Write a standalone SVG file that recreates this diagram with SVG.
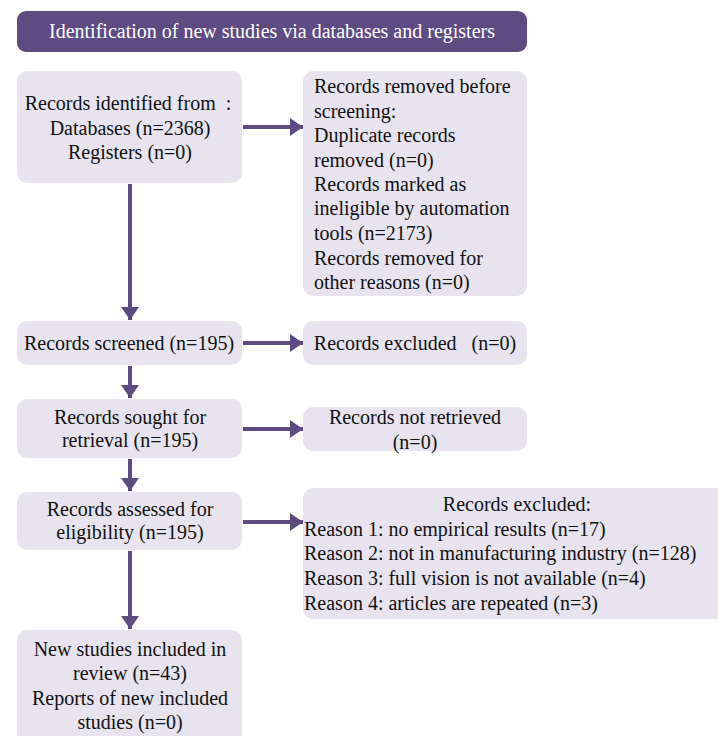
<svg xmlns="http://www.w3.org/2000/svg" width="718" height="736" viewBox="0 0 718 736">
<defs>
<marker id="ah" markerUnits="userSpaceOnUse" markerWidth="14" markerHeight="20" refX="13" refY="9" orient="auto">
<path d="M0,0 L13,9 L0,18 Z" fill="#5e4b82"/>
</marker>
<style>
.box{fill:#e7e4ef;}
.hdr{fill:#5e4b82;}
text{font-size:20px;fill:#111;}
.c{text-anchor:middle;}
.w{fill:#ffffff;}
.cn line{stroke:#5e4b82;stroke-width:4;marker-end:url(#ah);}
</style>
</defs>
<rect width="718" height="736" fill="#ffffff"/>
<g font-family="'Liberation Serif', Tinos, 'Times New Roman', 'DejaVu Serif', serif">
<g id="header">
<rect class="hdr" x="17" y="11" width="510" height="41" rx="9"/>
<text class="c w" x="272" y="38">Identification of new studies via databases and registers</text>
</g>
<g id="identified">
<rect class="box" x="17" y="71" width="225" height="112" rx="10"/>
<text class="c" x="128" y="110" xml:space="preserve">Records identified from  :</text>
<text class="c" x="130" y="135">Databases (n=2368)</text>
<text class="c" x="130" y="159">Registers (n=0)</text>
</g>
<g id="removed">
<rect class="box" x="303" y="71" width="224" height="225" rx="10"/>
<text x="314" y="93">Records removed before</text>
<text x="314" y="118">screening:</text>
<text x="314" y="142">Duplicate records</text>
<text x="314" y="167">removed (n=0)</text>
<text x="314" y="191">Records marked as</text>
<text x="314" y="215">ineligible by automation</text>
<text x="314" y="240">tools (n=2173)</text>
<text x="314" y="265">Records removed for</text>
<text x="314" y="289">other reasons (n=0)</text>
</g>
<g id="screened">
<rect class="box" x="17" y="321" width="225" height="44" rx="10"/>
<text class="c" x="129" y="350">Records screened (n=195)</text>
</g>
<g id="excluded1">
<rect class="box" x="303" y="321" width="224" height="44" rx="10"/>
<text class="c" x="415" y="350" xml:space="preserve">Records excluded   (n=0)</text>
</g>
<g id="sought">
<rect class="box" x="17" y="399" width="225" height="59" rx="10"/>
<text class="c" x="130" y="424">Records sought for</text>
<text class="c" x="130" y="447">retrieval (n=195)</text>
</g>
<g id="notretrieved">
<rect class="box" x="303" y="407" width="224" height="44" rx="10"/>
<text class="c" x="415" y="424">Records not retrieved</text>
<text class="c" x="415" y="449">(n=0)</text>
</g>
<g id="assessed">
<rect class="box" x="17" y="492" width="225" height="58" rx="10"/>
<text class="c" x="130" y="516">Records assessed for</text>
<text class="c" x="130" y="539">eligibility (n=195)</text>
</g>
<g id="excluded2">
<rect class="box" x="303" y="488" width="425" height="131" rx="10"/>
<text class="c" x="517" y="511">Records excluded:</text>
<text x="304" y="536">Reason 1: no empirical results (n=17)</text>
<text x="304" y="560">Reason 2: not in manufacturing industry (n=128)</text>
<text x="304" y="585">Reason 3: full vision is not available (n=4)</text>
<text x="304" y="610">Reason 4: articles are repeated (n=3)</text>
</g>
<g id="included">
<rect class="box" x="17" y="630" width="225" height="116" rx="10"/>
<text class="c" x="130" y="656">New studies included in</text>
<text class="c" x="130" y="680">review (n=43)</text>
<text class="c" x="130" y="705">Reports of new included</text>
<text class="c" x="130" y="729">studies (n=0)</text>
</g>
</g>
<g id="connectors" class="cn">
<line x1="243" y1="127" x2="303" y2="127"/>
<line x1="130" y1="184" x2="130" y2="320"/>
<line x1="243" y1="343" x2="303" y2="343"/>
<line x1="130" y1="366" x2="130" y2="398"/>
<line x1="243" y1="429" x2="303" y2="429"/>
<line x1="130" y1="459" x2="130" y2="491"/>
<line x1="243" y1="522" x2="303" y2="522"/>
<line x1="130" y1="551" x2="130" y2="629"/>
</g>
</svg>
